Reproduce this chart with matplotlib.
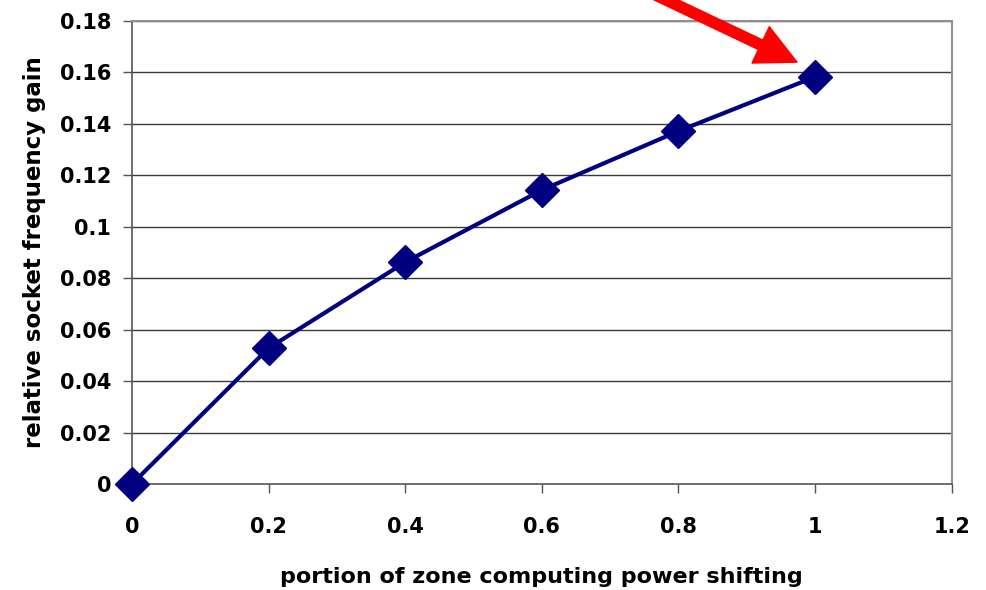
import matplotlib.pyplot as plt

# portion of zone computing power shifted vs. relative socket frequency gain
portion = [0, 0.2, 0.4, 0.6, 0.8, 1.0]
freq_gain = [0.0, 0.0528, 0.0862, 0.1142, 0.1371, 0.1582]

x_ticks = [0, 0.2, 0.4, 0.6, 0.8, 1.0, 1.2]
x_tick_labels = ['0', '0.2', '0.4', '0.6', '0.8', '1', '1.2']
y_ticks = [0, 0.02, 0.04, 0.06, 0.08, 0.1, 0.12, 0.14, 0.16, 0.18]
y_tick_labels = ['0', '0.02', '0.04', '0.06', '0.08', '0.1', '0.12', '0.14', '0.16', '0.18']

plt.rcParams['font.family'] = ['DejaVu Sans']
plt.rcParams['font.weight'] = 'bold'

fig = plt.figure(figsize=(9.86, 5.9), dpi=100)
ax = fig.add_axes([0.1339, 0.1797, 0.8313, 0.7852])

ax.set_xlim(0, 1.2)
ax.set_ylim(0, 0.18)

# horizontal gridlines only
for y in y_ticks[1:]:
    ax.axhline(y, color='#3a3a3a', linewidth=1.0, zorder=1)

ax.plot(portion, freq_gain, color='#000080', linewidth=3, marker='D',
        markersize=17.5, markerfacecolor='#000080', markeredgecolor='#000080',
        clip_on=False, zorder=3)

# red arrow pointing at the full-shift point
ax.annotate('', xy=(0.9736, 0.1639), xytext=(0.7145, 0.1966),
            annotation_clip=False,
            arrowprops=dict(facecolor='#ff0000', edgecolor='#ff0000',
                            width=7.5, headwidth=29, headlength=29, shrink=0))

ax.set_xticks(x_ticks)
ax.set_xticklabels(x_tick_labels, fontsize=15, fontweight='bold')
ax.set_yticks(y_ticks)
ax.set_yticklabels(y_tick_labels, fontsize=15, fontweight='bold')
ax.tick_params(axis='both', direction='out', length=6.5, width=1, color='#555555')
ax.tick_params(axis='x', pad=17)
ax.tick_params(axis='y', pad=8.5)

for side in ['left', 'bottom']:
    ax.spines[side].set_color('#555555')
    ax.spines[side].set_linewidth(1.2)
for side in ['top', 'right']:
    ax.spines[side].set_color('#909090')
    ax.spines[side].set_linewidth(1.5)

ax.set_xlabel('portion of zone computing power shifting', fontsize=16,
              fontweight='bold', labelpad=22)
ax.set_ylabel('relative socket frequency gain', fontsize=16.5,
              fontweight='bold', labelpad=10)

fig.savefig('out.png', dpi=100, facecolor='white')
